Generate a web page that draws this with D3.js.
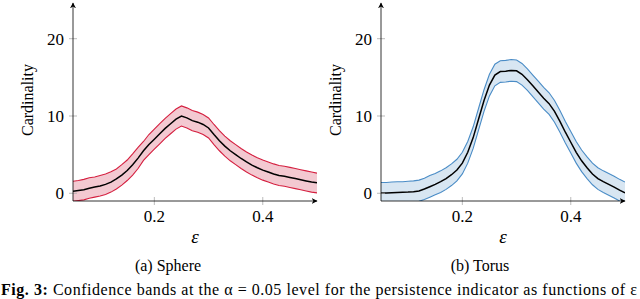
<!DOCTYPE html>
<html>
<head>
<meta charset="utf-8">
<script src="https://cdn.jsdelivr.net/npm/d3@7"></script>
<style>
  body { margin: 0; background: #fff; }
</style>
</head>
<body>
<svg id="chart" width="640" height="299" font-family="Liberation Serif"></svg>
<script>
// x values (epsilon), shared by both panels
var eps = d3.range(46).map(i => +(0.05 + i * 0.01).toFixed(2));

// Sphere: mean cardinality and confidence band
var sphereMean = [0.25, 0.35, 0.45, 0.65, 0.8, 0.95, 1.15, 1.45, 1.85, 2.35,
  2.95, 3.7, 4.55, 5.5, 6.3, 7.0, 7.7, 8.4, 9.0, 9.6,
  10.0, 9.75, 9.4, 9.2, 8.9, 8.45, 7.6, 6.8, 6.1, 5.5,
  5.0, 4.5, 4.05, 3.65, 3.3, 3.0, 2.75, 2.5, 2.3, 2.2,
  2.05, 1.9, 1.75, 1.6, 1.45, 1.35];
var sphereUpper = [1.55, 1.65, 1.8, 2.0, 2.1, 2.3, 2.5, 2.8, 3.15, 3.7,
  4.3, 5.1, 5.95, 6.7, 7.6, 8.3, 9.0, 9.7, 10.3, 10.9,
  11.3, 11.05, 10.7, 10.5, 10.2, 9.75, 8.9, 8.1, 7.4, 6.8,
  6.3, 5.8, 5.35, 4.95, 4.6, 4.3, 4.05, 3.8, 3.6, 3.5,
  3.35, 3.2, 3.05, 2.9, 2.75, 2.6];
var sphereLower = [-1.05, -0.95, -0.85, -0.65, -0.5, -0.35, -0.15, 0.15, 0.55, 1.05,
  1.65, 2.35, 3.2, 4.25, 5.0, 5.7, 6.4, 7.1, 7.7, 8.3,
  8.7, 8.45, 8.1, 7.9, 7.6, 7.15, 6.3, 5.5, 4.8, 4.2,
  3.7, 3.2, 2.75, 2.35, 2.0, 1.7, 1.45, 1.2, 1.0, 0.9,
  0.75, 0.6, 0.45, 0.3, 0.15, 0.05];

// Torus: mean cardinality and confidence band
var torusMean = [0.05, 0.05, 0.08, 0.1, 0.12, 0.15, 0.2, 0.3, 0.55, 0.85,
  1.15, 1.5, 1.9, 2.4, 3.0, 3.9, 5.3, 7.2, 9.6, 12.0,
  14.0, 15.3, 15.75, 15.8, 15.9, 15.85, 15.4, 14.7, 13.9, 13.1,
  12.3, 11.6, 10.6, 9.3, 7.9, 6.6, 5.3, 4.2, 3.3, 2.5,
  1.9, 1.5, 1.15, 0.8, 0.4, 0.05];
var torusUpper = [1.4, 1.4, 1.45, 1.5, 1.5, 1.55, 1.6, 1.7, 1.95, 2.3,
  2.55, 2.9, 3.3, 3.8, 4.4, 5.3, 6.7, 8.6, 11.0, 13.4,
  15.4, 16.7, 17.15, 17.2, 17.3, 17.25, 16.8, 16.1, 15.3, 14.5,
  13.7, 13.0, 12.0, 10.7, 9.3, 8.0, 6.7, 5.6, 4.7, 3.9,
  3.3, 2.9, 2.55, 2.2, 1.8, 1.45];
var torusLower = [-1.3, -1.3, -1.28, -1.25, -1.22, -1.2, -1.15, -1.05, -0.8, -0.5,
  -0.2, 0.1, 0.5, 1.0, 1.6, 2.5, 3.9, 5.8, 8.2, 10.6,
  12.6, 13.9, 14.35, 14.4, 14.5, 14.45, 14.0, 13.3, 12.5, 11.7,
  10.9, 10.2, 9.2, 7.9, 6.5, 5.2, 3.9, 2.8, 1.9, 1.1,
  0.5, 0.1, -0.25, -0.6, -1.0, -1.35];

var xTicks = [0.2, 0.4];
var yTicks = [0, 10, 20];
var captions = ["(a) Sphere", "(b) Torus"];

var svg = d3.select("#chart");

// arrow head marker for the axis lines
var defs = svg.append("defs");
defs.append("marker")
  .attr("id", "arrow")
  .attr("viewBox", "0 0 10 10")
  .attr("refX", 9).attr("refY", 5)
  .attr("markerWidth", 6).attr("markerHeight", 6)
  .attr("markerUnits", "userSpaceOnUse")
  .attr("orient", "auto")
  .append("path")
  .attr("d", "M0,0 L10,5 L0,10 L3,5 Z")
  .attr("fill", "#000");

var panels = [
  {left: 73, capX: 168, labX: 27, mean: sphereMean, upper: sphereUpper, lower: sphereLower,
   edge: "#d41f3f", fill: "#f3c9d1", caption: captions[0]},
  {left: 381, capX: 480, labX: 335, mean: torusMean, upper: torusUpper, lower: torusLower,
   edge: "#4a8cc6", fill: "#d8e6f2", caption: captions[1]}
];

panels.forEach(function(p, k) {
  var x = d3.scaleLinear().domain([0.05, 0.5]).range([p.left, p.left + 244]);
  var y = d3.scaleLinear().domain([-1, 20]).range([201, 38.7]);

  var g = svg.append("g");

  var clipId = "clip" + k;
  defs.append("clipPath").attr("id", clipId)
    .append("rect")
    .attr("x", x(0.05)).attr("y", 0)
    .attr("width", x(0.5) - x(0.05)).attr("height", y(-1));

  var plot = g.append("g").attr("clip-path", `url(#${clipId})`);

  var band = d3.area()
    .x((d, i) => x(eps[i]))
    .y0((d, i) => y(p.lower[i]))
    .y1((d, i) => y(p.upper[i]));

  plot.append("path")
    .datum(p.mean)
    .attr("d", band)
    .attr("fill", p.fill);

  var line = d3.line().x((d, i) => x(eps[i])).y(d => y(d));

  [p.upper, p.lower].forEach(function(arr) {
    plot.append("path")
      .datum(arr)
      .attr("d", line)
      .attr("fill", "none")
      .attr("stroke", p.edge)
      .attr("stroke-width", 1.1);
  });

  plot.append("path")
    .datum(p.mean)
    .attr("d", line)
    .attr("fill", "none")
    .attr("stroke", "#000")
    .attr("stroke-width", 1.5);

  // tick marks crossing the axes
  g.selectAll(".yt").data(yTicks).enter().append("line")
    .attr("x1", x(0.05) - 4).attr("x2", x(0.05) + 4)
    .attr("y1", d => y(d)).attr("y2", d => y(d))
    .attr("stroke", "#aaa").attr("stroke-width", 0.8);
  g.selectAll(".xt").data(xTicks).enter().append("line")
    .attr("x1", d => x(d)).attr("x2", d => x(d))
    .attr("y1", y(-1) - 4).attr("y2", y(-1) + 4)
    .attr("stroke", "#aaa").attr("stroke-width", 0.8);

  // axis lines with arrows
  g.append("line")
    .attr("x1", x(0.05)).attr("y1", y(-1))
    .attr("x2", x(0.05)).attr("y2", 3)
    .attr("stroke", "#000").attr("stroke-width", 0.8)
    .attr("marker-end", "url(#arrow)");
  g.append("line")
    .attr("x1", x(0.05)).attr("y1", y(-1))
    .attr("x2", x(0.5)).attr("y2", y(-1))
    .attr("stroke", "#000").attr("stroke-width", 0.8)
    .attr("marker-end", "url(#arrow)");

  // tick labels
  g.selectAll(".yl").data(yTicks).enter().append("text")
    .attr("x", x(0.05) - 9).attr("y", d => y(d))
    .attr("dy", "0.35em")
    .attr("text-anchor", "end")
    .attr("font-size", 17)
    .text(d => d);
  g.selectAll(".xl").data(xTicks).enter().append("text")
    .attr("x", d => x(d)).attr("y", 222)
    .attr("text-anchor", "middle")
    .attr("font-size", 17)
    .text(d => d3.format(".1f")(d));

  // axis titles
  g.append("text")
    .attr("transform", `translate(${p.labX + 6}, 100) rotate(-90)`)
    .attr("text-anchor", "middle")
    .attr("font-size", 16)
    .text("Cardinality");
  g.append("text")
    .attr("x", (x(0.05) + x(0.5)) / 2).attr("y", 243)
    .attr("text-anchor", "middle")
    .attr("font-size", 19)
    .attr("font-style", "italic")
    .text("ε");

  g.append("text")
    .attr("x", p.capX).attr("y", 271)
    .attr("text-anchor", "middle")
    .attr("font-size", 16)
    .text(p.caption);
});

// figure caption (at the bottom edge of the image)
var cap = svg.append("text")
  .attr("x", 1).attr("y", 295)
  .attr("font-size", 16)
  .attr("textLength", 636)
  .attr("lengthAdjust", "spacing");
cap.append("tspan").attr("font-weight", "bold").text("Fig. 3:");
cap.append("tspan").text(" Confidence bands at the α = 0.05 level for the persistence indicator as functions of ε");
</script>
</body>
</html>
